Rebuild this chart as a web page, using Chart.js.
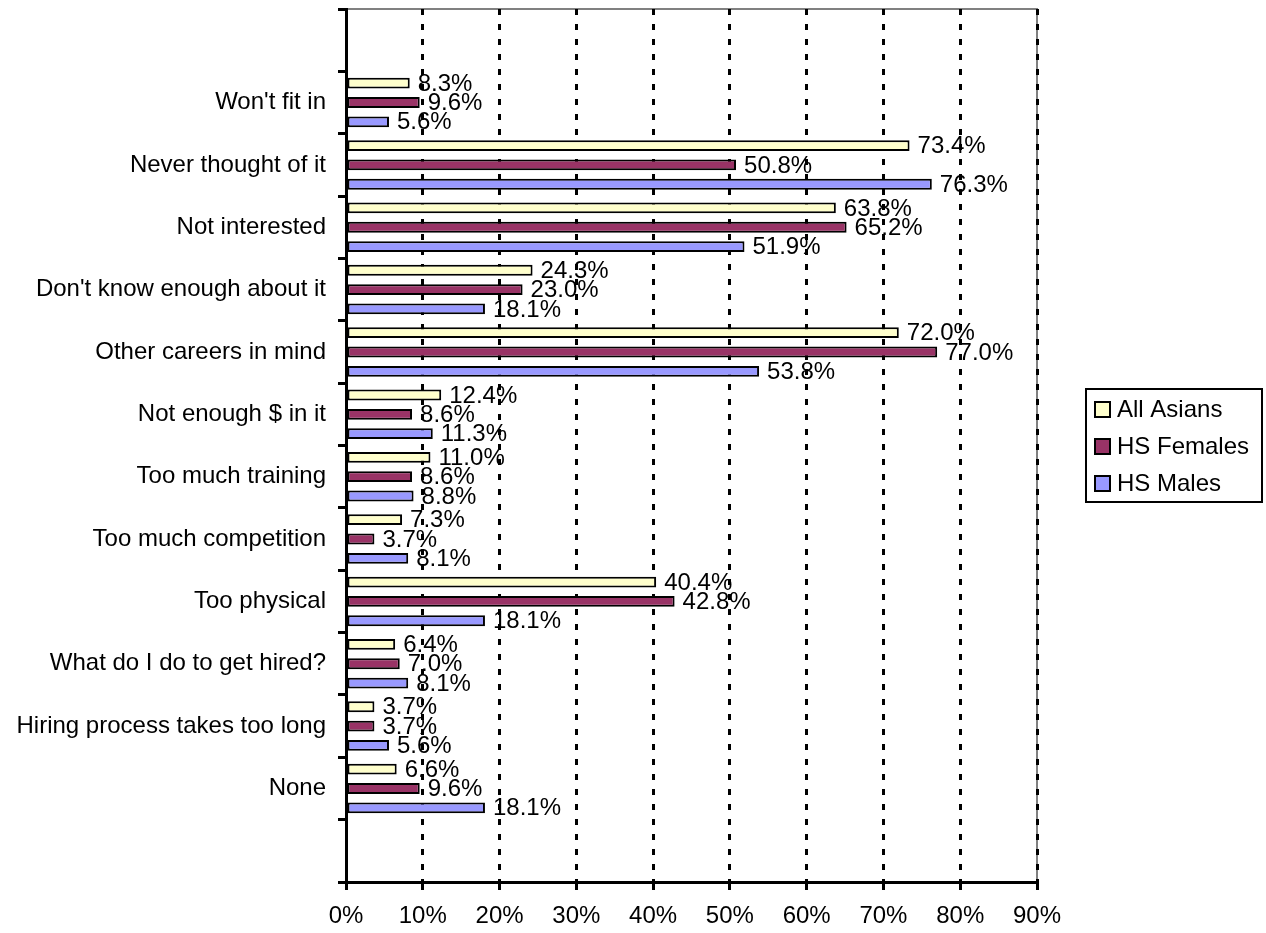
<!DOCTYPE html>
<html>
<head>
<meta charset="utf-8">
<script src="https://cdn.jsdelivr.net/npm/chart.js@4/dist/chart.umd.min.js"></script>
<style>
  html, body { margin: 0; padding: 0; background: #ffffff; }
  #wrap { width: 1266px; height: 933px; position: relative; }
</style>
</head>
<body>
<div id="wrap"><canvas id="reasonsChart"></canvas></div>
<script>
// blank slots at top and bottom, like the original category axis
const categories = [
    ' ',
    "Won't fit in",
    'Never thought of it',
    'Not interested',
    "Don't know enough about it",
    'Other careers in mind',
    'Not enough $ in it',
    'Too much training',
    'Too much competition',
    'Too physical',
    'What do I do to get hired?',
    'Hiring process takes too long',
    'None',
    '  '
];

const allAsians = [null, 8.3, 73.4, 63.8, 24.3, 72.0, 12.4, 11.0, 7.3, 40.4, 6.4, 3.7, 6.6, null];
const hsFemales = [null, 9.6, 50.8, 65.2, 23.0, 77.0, 8.6, 8.6, 3.7, 42.8, 7.0, 3.7, 9.6, null];
const hsMales = [null, 5.6, 76.3, 51.9, 18.1, 53.8, 11.3, 8.8, 8.1, 18.1, 8.1, 5.6, 18.1, null];

const seriesNames = ['All Asians', 'HS Females', 'HS Males'];
const xTickMax = 90;
const xTickStep = 10;

const FONT = "'Liberation Sans', Arial, sans-serif";

// gray frame on top/right of the plot area (drawn under the grid)
const plotFrame = {
    id: 'plotFrame',
    beforeDraw(chart) {
        const { ctx, chartArea: a } = chart;
        ctx.save();
        ctx.strokeStyle = '#808080';
        ctx.lineWidth = 2;
        ctx.beginPath();
        ctx.moveTo(a.left, a.top);
        ctx.lineTo(a.right, a.top);
        ctx.lineTo(a.right, a.bottom);
        ctx.stroke();
        ctx.restore();
    }
};

// value labels just right of each bar end
const valueLabels = {
    id: 'valueLabels',
    afterDatasetsDraw(chart) {
        const { ctx } = chart;
        ctx.save();
        ctx.font = '24px ' + FONT;
        ctx.fillStyle = '#000000';
        ctx.textAlign = 'left';
        ctx.textBaseline = 'middle';
        chart.data.datasets.forEach((ds, i) => {
            chart.getDatasetMeta(i).data.forEach((bar, j) => {
                const v = ds.data[j];
                if (v === null) return;
                ctx.fillText(v.toFixed(1) + '%', bar.x + 8, bar.y + 1);
            });
        });
        ctx.restore();
    }
};

// boxed legend to the right, Excel style
const boxLegend = {
    id: 'boxLegend',
    afterDraw(chart) {
        const { ctx } = chart;
        const left = 1086, top = 389, width = 176, height = 113;
        ctx.save();
        ctx.fillStyle = '#ffffff';
        ctx.fillRect(left, top, width, height);
        ctx.strokeStyle = '#000000';
        ctx.lineWidth = 2;
        ctx.strokeRect(left, top, width, height);
        ctx.font = '24px ' + FONT;
        ctx.textBaseline = 'middle';
        chart.data.datasets.forEach((ds, i) => {
            const cy = top + 20 + i * 37;
            ctx.fillStyle = ds.backgroundColor;
            ctx.fillRect(left + 9, cy - 7, 15, 15);
            ctx.strokeRect(left + 9, cy - 7, 15, 15);
            ctx.fillStyle = '#000000';
            ctx.fillText(ds.label, left + 31, cy + 1);
        });
        ctx.restore();
    }
};

function makeDataset(label, data, color) {
    return {
        label: label,
        data: data,
        backgroundColor: color,
        borderColor: '#000000',
        borderWidth: 2,
        borderSkipped: false,
        categoryPercentage: 0.93,
        barPercentage: 0.56
    };
}

const ctx = document.getElementById('reasonsChart').getContext('2d');
new Chart(ctx, {
    type: 'bar',
    data: {
        labels: categories,
        datasets: [
            makeDataset(seriesNames[0], allAsians, '#FFFFCC'),
            makeDataset(seriesNames[1], hsFemales, '#993366'),
            makeDataset(seriesNames[2], hsMales, '#9999FF')
        ]
    },
    options: {
        indexAxis: 'y',
        responsive: true,
        maintainAspectRatio: false,
        animation: false,
        layout: { padding: { left: 0, top: 9, right: 229, bottom: 0 } },
        plugins: {
            legend: { display: false },
            tooltip: { enabled: false }
        },
        scales: {
            x: {
                min: 0,
                max: xTickMax,
                ticks: {
                    stepSize: xTickStep,
                    color: '#000000',
                    font: { family: FONT, size: 24 },
                    padding: 12,
                    callback: (value) => value + '%'
                },
                grid: {
                    color: '#000000',
                    lineWidth: 3,
                    tickLength: 8,
                    tickWidth: 3,
                    tickColor: '#000000'
                },
                border: { display: true, color: '#000000', width: 3, dash: [6, 9] },
                afterFit: (scale) => {
                    scale.height = 51;
                    scale.paddingLeft = 0;
                    scale.paddingRight = 0;
                }
            },
            y: {
                ticks: {
                    color: '#000000',
                    font: { family: FONT, size: 24 },
                    padding: 12
                },
                grid: {
                    offset: true,
                    drawOnChartArea: false,
                    tickLength: 8,
                    tickWidth: 3,
                    tickColor: '#000000'
                },
                border: { display: true, color: '#000000', width: 3 },
                afterFit: (scale) => {
                    scale.width = 346;
                    scale.paddingTop = 0;
                    scale.paddingBottom = 0;
                }
            }
        }
    },
    plugins: [plotFrame, valueLabels, boxLegend]
});
</script>
</body>
</html>
